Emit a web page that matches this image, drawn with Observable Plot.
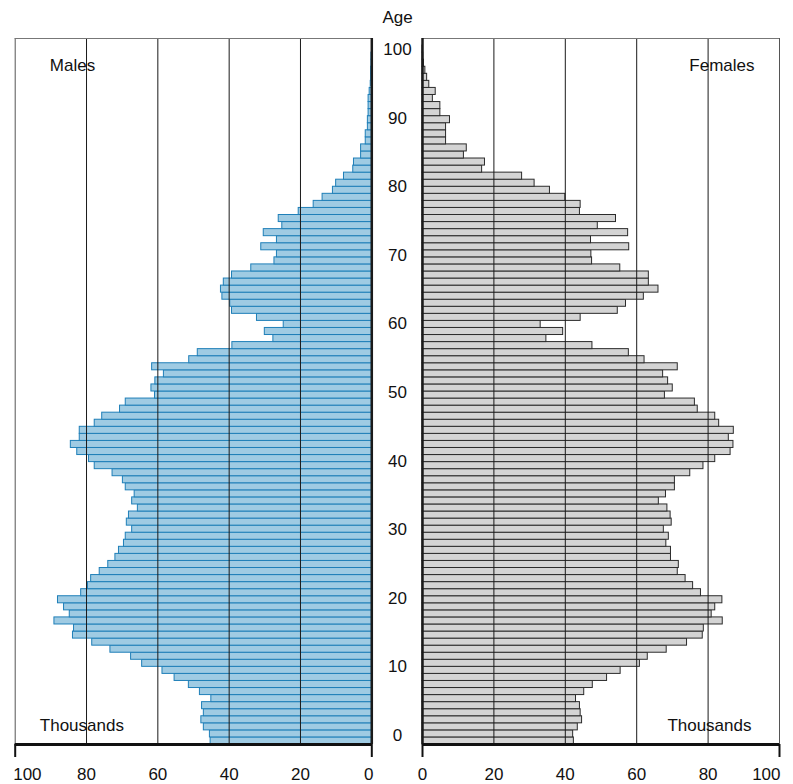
<!DOCTYPE html>
<html>
<head>
<meta charset="utf-8">
<script src="https://cdn.jsdelivr.net/npm/d3@7"></script>
<script src="https://cdn.jsdelivr.net/npm/@observablehq/plot@0.6"></script>
<style>
  body { margin: 0; background: #fff; }
  #chart { display: flex; width: 793px; height: 784px; background: #fff; }
  #chart svg { display: block; flex: none; background: transparent; }
</style>
</head>
<body>
<div id="chart"></div>
<script>
// Single years of age, 0 (bottom) to 99 (top)
const ages = d3.range(0, 100);

// Males, thousands, by single year of age 0..99
const males = [
  45.2, 45.4, 47.1, 47.8, 47.1, 47.6, 45.0, 48.2, 51.3, 55.3,
  58.7, 64.4, 67.5, 73.3, 78.4, 83.8, 83.5, 89.0, 84.7, 86.3,
  88.0, 81.5, 79.6, 78.7, 76.3, 73.9, 71.9, 70.9, 69.5, 69.0,
  67.2, 68.7, 68.1, 65.6, 67.2, 66.5, 69.0, 69.8, 72.7, 77.7,
  79.3, 82.6, 84.4, 81.9, 81.9, 77.7, 75.6, 70.6, 69.0, 60.8,
  61.8, 60.7, 58.3, 61.6, 51.2, 48.8, 39.1, 27.6, 30.0, 24.7,
  32.2, 39.2, 39.7, 41.9, 42.3, 41.5, 39.2, 33.8, 27.3, 26.6,
  31.0, 26.6, 30.3, 25.1, 26.1, 20.5, 16.3, 13.8, 10.9, 10.0,
  7.8, 5.2, 5.0, 3.0, 3.0, 1.7, 1.7, 1.1, 1.1, 0.9,
  0.9, 0.9, 0.6, 0.3, 0.2, 0.2, 0.1, 0.1, 0, 0
];

// Females, thousands, by single year of age 0..99
const females = [
  42.4, 42.2, 43.5, 44.7, 44.3, 44.1, 43.0, 45.3, 47.7, 51.7,
  55.5, 60.9, 63.1, 68.4, 74.1, 78.5, 78.8, 84.1, 81.0, 82.0,
  84.0, 78.0, 75.8, 73.7, 71.5, 71.8, 69.6, 69.6, 68.3, 69.0,
  67.6, 69.8, 69.5, 68.6, 66.2, 68.2, 70.7, 70.7, 75.0, 78.7,
  82.0, 86.3, 87.1, 85.8, 87.2, 83.1, 82.0, 77.1, 76.3, 67.9,
  70.1, 68.8, 67.4, 71.5, 62.2, 57.8, 47.6, 34.7, 39.4, 33.1,
  44.3, 54.7, 57.0, 62.0, 66.1, 63.4, 63.4, 55.4, 47.5, 47.3,
  57.9, 47.2, 57.6, 49.1, 54.2, 44.1, 44.3, 40.0, 35.7, 31.4,
  27.9, 16.7, 17.5, 11.6, 12.4, 6.6, 6.6, 6.6, 7.7, 5.0,
  5.0, 2.9, 3.7, 1.9, 1.3, 0.8, 0.4, 0.2, 0.1, 0
];

const valueTicks = [0, 20, 40, 60, 80, 100];
const gridTicks = [20, 40, 60, 80];
const ageTicks = [0, 10, 20, 30, 40, 50, 60, 70, 80, 90, 100];
const unitLabel = "Thousands";

const FONT = '"Liberation Sans", Arial, Helvetica, sans-serif';
const H = 784;
const PAD = 23.5;

const maleRows = ages.map((age, i) => ({age, value: males[i]}));
const femaleRows = ages.map((age, i) => ({age, value: females[i]}));

function panel({rows, width, marginLeft, marginRight, reverse, fill, stroke, title, side}) {
  const left = side === "left";
  return Plot.plot({
    width, height: H,
    marginLeft, marginRight, marginTop: 38, marginBottom: 40,
    style: {fontFamily: FONT, fontSize: "17px", color: "#111", background: "transparent"},
    x: {domain: [0, 100], reverse, axis: null},
    y: {domain: [0, 100], axis: null},
    marks: [
      Plot.rect(rows, {
        x1: () => 0, x2: "value",
        y1: "age", y2: d => d.age + 1,
        fill, stroke, strokeWidth: 1
      }),
      Plot.ruleX(gridTicks, {stroke: "#1a1a1a", strokeWidth: 1}),
      Plot.ruleX([100], {stroke: "#555", strokeWidth: 1}),
      Plot.ruleY([100], {stroke: "#777", strokeWidth: 1}),
      Plot.ruleX([0], {stroke: "#1a1a1a", strokeWidth: 2.5}),
      Plot.ruleY([0], {stroke: "#111", strokeWidth: 3}),
      // end ticks below the axis line
      Plot.axisX({ticks: [0, 100], tickSize: 13, strokeWidth: 2, stroke: "#111", fill: "none", label: null}),
      // tick labels
      Plot.axisX({ticks: valueTicks.filter(t => t > 0 && t < 100), tickSize: 0, tickPadding: PAD, label: null}),
      Plot.axisX({ticks: [0], tickSize: 0, tickPadding: PAD, label: null, dx: left ? -3 : 0}),
      Plot.axisX({ticks: [100], tickSize: 0, tickPadding: PAD, label: null,
                  textAnchor: left ? "start" : "end", dx: left ? -2 : 1}),
      Plot.text([title], {
        frameAnchor: left ? "top-left" : "top-right",
        textAnchor: left ? "start" : "end", lineAnchor: "bottom",
        dx: left ? 34.6 : -25, dy: 32, fontSize: 17, fill: "#111"
      }),
      Plot.text([unitLabel], {
        frameAnchor: left ? "bottom-left" : "bottom-right",
        textAnchor: left ? "start" : "end", lineAnchor: "bottom",
        dx: left ? 24.6 : -28, dy: -13.3, fontSize: 17, fill: "#111"
      })
    ]
  });
}

const malePlot = panel({
  rows: maleRows, width: 380, marginLeft: 14.7, marginRight: 8.7, reverse: true,
  fill: "#9fcbe3", stroke: "#1f7fb8", title: "Males", side: "left"
});

const agePlot = Plot.plot({
  width: 34, height: H,
  marginLeft: 0, marginRight: 0, marginTop: 49, marginBottom: 49,
  style: {fontFamily: FONT, fontSize: "17px", color: "#111", background: "transparent"},
  y: {domain: [0, 100], axis: null},
  marks: [
    Plot.text(ageTicks, {y: d => d, text: d => String(d), frameAnchor: "middle", fontSize: 17, fill: "#111"}),
    Plot.text(["Age"], {frameAnchor: "top", lineAnchor: "bottom", dy: 22.7 - 49, fontSize: 17, fill: "#111"})
  ]
});

const femalePlot = panel({
  rows: femaleRows, width: 379, marginLeft: 8, marginRight: 14, reverse: false,
  fill: "#d4d4d4", stroke: "#2b2b2b", title: "Females", side: "right"
});

const chart = document.getElementById("chart");
chart.append(malePlot, agePlot, femalePlot);
</script>
</body>
</html>
